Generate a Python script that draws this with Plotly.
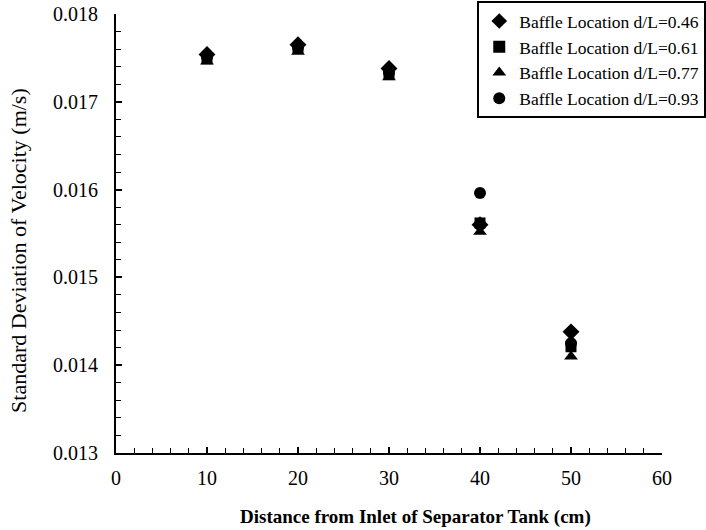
import plotly.graph_objects as go

distance = [10, 20, 30, 40, 50]
sd_046 = [0.01754, 0.01765, 0.01738, 0.01560, 0.01438]
sd_061 = [0.01749, 0.01761, 0.01731, 0.01562, 0.01421]
sd_077 = [0.01746, 0.01757, 0.01728, 0.01552, 0.01410]
sd_093 = [0.01751, 0.01762, 0.01733, 0.01596, 0.01425]

series = [
    ("Baffle Location d/L=0.46", sd_046, "diamond", 13),
    ("Baffle Location d/L=0.61", sd_061, "square", 11),
    ("Baffle Location d/L=0.77", sd_077, "triangle-up", 12),
    ("Baffle Location d/L=0.93", sd_093, "circle", 12),
]

x_title = "<b>Distance from Inlet of Separator Tank (cm)</b>"
y_title = "Standard Deviation of Velocity (m/s)"

FONT = "Liberation Serif, Times New Roman, serif"

fig = go.Figure()
for name, vals, sym, sz in series:
    fig.add_trace(go.Scatter(
        x=distance, y=vals, mode="markers", name=name,
        marker=dict(symbol=sym, size=sz, color="black", line=dict(width=0)),
    ))

fig.update_layout(
    width=706, height=530,
    margin=dict(l=116, r=44, t=14, b=77, autoexpand=False),
    plot_bgcolor="white", paper_bgcolor="white",
    font=dict(family=FONT, size=18, color="black"),
    showlegend=True,
    legend=dict(
        xref="container", yref="container",
        x=0.676, y=0.998, xanchor="left", yanchor="top",
        bgcolor="white", bordercolor="black", borderwidth=2,
        font=dict(family=FONT, size=17.5, color="black"),
        itemsizing="constant", itemwidth=30, tracegroupgap=0,
    ),
    xaxis=dict(
        range=[0, 60], tickmode="linear", tick0=0, dtick=10,
        showgrid=False, zeroline=False,
        showline=True, linecolor="black", linewidth=2,
        ticks="inside", ticklen=6, tickwidth=1.5, tickcolor="black",
        minor=dict(dtick=2, ticks="inside", ticklen=5, tickwidth=1.2, tickcolor="black", showgrid=False),
        tickfont=dict(family=FONT, size=20),
        ticklabelstandoff=6,
    ),
    yaxis=dict(
        range=[0.013, 0.018], tickmode="linear", tick0=0.013, dtick=0.001,
        tickformat=".3f",
        showgrid=False, zeroline=False,
        showline=True, linecolor="black", linewidth=2,
        ticks="inside", ticklen=6, tickwidth=1.5, tickcolor="black",
        minor=dict(dtick=0.0002, ticks="inside", ticklen=5, tickwidth=1.2, tickcolor="black", showgrid=False),
        tickfont=dict(family=FONT, size=20),
        ticklabelstandoff=12,
    ),
    annotations=[
        dict(text=x_title, xref="paper", yref="paper", x=0.549, y=-0.146,
             xanchor="center", yanchor="middle", showarrow=False,
             font=dict(family=FONT, size=19, color="black")),
        dict(text=y_title, xref="paper", yref="paper", x=-0.18, y=0.462,
             xanchor="center", yanchor="middle", showarrow=False, textangle=-90,
             font=dict(family=FONT, size=22, color="black")),
    ],
)

fig.write_html("out.html")
